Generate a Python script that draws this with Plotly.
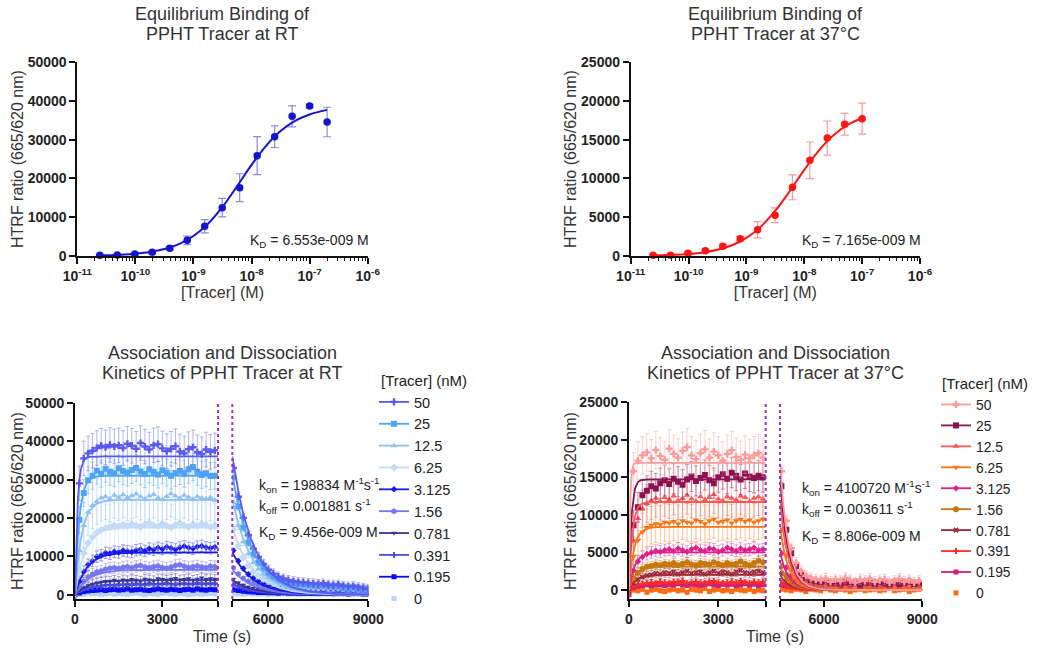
import plotly.graph_objects as go

W, H = 1049, 649
FONT = "Liberation Sans, Arial, sans-serif"

# ---------------- Equilibrium binding data ----------------
EQ_CONC_RT = [2.44e-11, 4.88e-11, 9.77e-11, 1.95e-10, 3.91e-10, 7.81e-10, 1.56e-9,
              3.125e-9, 6.25e-9, 1.25e-8, 2.5e-8, 5e-8, 1e-7, 2e-7]
EQ_HTRF_RT = [200, 250, 500, 950, 2000, 4040, 7650, 12460, 17600, 25860, 30760, 36000, 38660, 34540]
EQ_SD_RT = [200, 200, 300, 400, 500, 1100, 1700, 2400, 3600, 4900, 2800, 2700, 400, 3800]
EQ_FIT_X_RT = [2.44e-11, 3.16e-11, 5.62e-11, 1e-10, 1.78e-10, 3.16e-10, 5.62e-10, 1e-9, 1.78e-9,
               3.16e-9, 5.62e-9, 1e-8, 1.78e-8, 3.16e-8, 5.62e-8, 1e-7, 2e-7]
EQ_FIT_Y_RT = [144, 187, 331, 584, 1027, 1790, 3072, 5147, 8296, 12650, 17950, 23480, 28400,
               32200, 34810, 36480, 37660]

EQ_CONC_37 = [2.44e-11, 4.88e-11, 9.77e-11, 1.95e-10, 3.91e-10, 7.81e-10, 1.56e-9,
              3.125e-9, 6.25e-9, 1.25e-8, 2.5e-8, 5e-8, 1e-7]
EQ_HTRF_37 = [100, 100, 340, 690, 1250, 2230, 3390, 5240, 8850, 12330, 15200, 16970, 17700]
EQ_SD_37 = [100, 100, 150, 200, 250, 300, 1050, 950, 1600, 2360, 2200, 1400, 2000]
EQ_FIT_X_37 = [2.44e-11, 3.16e-11, 5.62e-11, 1e-10, 1.78e-10, 3.16e-10, 5.62e-10, 1e-9, 1.78e-9,
               3.16e-9, 5.62e-9, 1e-8, 1.78e-8, 3.16e-8, 5.62e-8, 1e-7]
EQ_FIT_Y_37 = [65, 84, 148, 262, 461, 805, 1386, 2333, 3788, 5833, 8376, 11100, 13580, 15530,
               16900, 17780]

LOG_TICKS = [1e-11, 1e-10, 1e-9, 1e-8, 1e-7, 1e-6]
LOG_TICK_TEXT = ["10<sup>-11</sup>", "10<sup>-10</sup>", "10<sup>-9</sup>", "10<sup>-8</sup>",
                 "10<sup>-7</sup>", "10<sup>-6</sup>"]

# ---------------- Kinetics, room temperature ----------------
TRACER_LABELS = ["50", "25", "12.5", "6.25", "3.125", "1.56", "0.781", "0.391", "0.195", "0"]

RT_T_ASSOC = list(range(0, 4801, 150))
RT_T_DISSOC = list(range(4950, 9001, 150))
RT_T_FIT_A = [0, 50, 100, 150, 200, 300, 400, 500, 700, 1000, 1500, 2000, 3000, 4910]
RT_T_FIT_D = [4920, 5020, 5120, 5220, 5320, 5470, 5620, 5820, 6020, 6320, 6720, 7220, 8020, 9000]

RT_A_50 = [800, 29000, 35500, 36800, 37500, 38200, 38800, 38400, 39000, 38600, 38900, 38200, 39300,
           38800, 38000, 39500, 38600, 37800, 38900, 39200, 38100, 37400, 38000, 38700, 37300, 36800,
           37900, 38400, 37100, 36600, 37800, 37200, 37600]
RT_A_25 = [500, 19500, 26500, 29800, 31000, 32300, 31500, 32800, 32000, 31600, 32900, 32200, 31800,
           32500, 33000, 32100, 31400, 32600, 32000, 31300, 32400, 31800, 31000, 31700, 32200, 31500,
           32600, 33200, 32000, 31200, 31600, 30900, 31000]
RT_A_12_5 = [300, 11500, 18000, 21500, 23200, 24300, 25200, 25600, 25000, 25900, 25400, 26000, 25300,
             25800, 26200, 25500, 24900, 25700, 26100, 25200, 24800, 25600, 26300, 25700, 25100, 25900,
             25400, 24800, 25600, 25200, 24900, 25300, 24600]
RT_A_6_25 = [200, 6500, 10800, 13500, 15000, 16200, 16900, 17400, 17600, 18100, 17800, 18300, 17900,
             18500, 18000, 17600, 18200, 18700, 18100, 17800, 18400, 18000, 17500, 18200, 18600, 18100,
             17700, 18300, 17900, 18400, 18000, 17600, 17900]
RT_A_3_125 = [100, 3400, 6000, 7800, 8800, 9900, 10300, 10900, 10700, 11200, 11000, 11500, 11300,
              11100, 11600, 11800, 11400, 12000, 11700, 12200, 11900, 12400, 12100, 11800, 12300, 12600,
              12200, 12000, 12500, 12700, 12300, 12100, 12400]
RT_A_1_56 = [100, 2000, 3500, 4600, 5300, 5900, 6200, 6600, 6900, 7000, 6800, 7100, 7300, 7000, 7400,
             7600, 7200, 7000, 7300, 7500, 7100, 6900, 7200, 7600, 7800, 7400, 7100, 7300, 7500, 7200,
             7000, 7400, 7300]
RT_A_0_781 = [0, 1000, 1800, 2400, 2800, 3100, 3300, 3500, 3600, 3800, 3500, 3900, 3700, 4000, 3800,
              3600, 4100, 3900, 3700, 4200, 4000, 3800, 4100, 4300, 3900, 4000, 4200, 3800, 4100, 4400,
              4000, 4200, 4100]
RT_A_0_391 = [0, 700, 1300, 1700, 2000, 2200, 2400, 2500, 2600, 2400, 2700, 2600, 2800, 2500, 2900,
              2700, 2600, 3000, 2800, 2700, 2900, 3100, 2800, 2600, 2900, 3000, 2700, 2900, 3100, 2800,
              3000, 2900, 3000]
RT_A_0_195 = [0, 500, 800, 1000, 1100, 1200, 1300, 1100, 1300, 1400, 1200, 1300, 1500, 1200, 1300,
              1400, 1200, 1100, 1300, 1500, 1300, 1200, 1400, 1300, 1100, 1300, 1400, 1200, 1500, 1300,
              1200, 1400, 1300]
RT_A_0 = [200, 300, 100, 400, 200, 300, 0, 200, 400, 100, 300, 200, 100, 300, 400, 200, 0, 300, 200,
          100, 300, 400, 200, 100, 300, 200, 0, 200, 300, 100, 200, 300, 200]

RT_D_50 = [33000, 25500, 20000, 15500, 12000, 9800, 8000, 6500, 5500, 4700, 4200, 3800, 3500, 3300,
           3200, 3000, 2900, 2800, 2900, 2600, 2500, 2600, 2300, 2100, 2200, 1900, 1700, 1500]
RT_D_25 = [30500, 23000, 17500, 13500, 10500, 8300, 6800, 5500, 4600, 4000, 3500, 3200, 3000, 2800,
           2700, 2600, 2500, 2400, 2500, 2300, 2200, 2300, 2000, 1900, 2000, 1700, 1600, 1400]
RT_D_12_5 = [24000, 18000, 13800, 10600, 8300, 6600, 5400, 4500, 3800, 3300, 3000, 2800, 2600, 2500,
             2400, 2300, 2200, 2100, 2200, 2000, 1900, 2000, 1800, 1700, 1800, 1500, 1400, 1300]
RT_D_6_25 = [17000, 12800, 9800, 7600, 6000, 4900, 4100, 3500, 3000, 2700, 2500, 2300, 2200, 2100,
             2000, 1900, 1900, 1800, 1900, 1700, 1700, 1800, 1600, 1500, 1600, 1400, 1300, 1200]
RT_D_3_125 = [11500, 8800, 6800, 5300, 4300, 3500, 2900, 2500, 2200, 2000, 1800, 1700, 1600, 1500,
              1500, 1400, 1400, 1300, 1400, 1300, 1200, 1300, 1200, 1100, 1200, 1000, 1000, 900]
RT_D_1_56 = [7000, 5400, 4300, 3500, 2900, 2400, 2100, 1800, 1600, 1500, 1400, 1300, 1300, 1200, 1200,
             1100, 1100, 1100, 1200, 1000, 1000, 1100, 1000, 900, 1000, 900, 800, 800]
RT_D_0_781 = [4000, 3100, 2500, 2000, 1700, 1400, 1200, 1100, 1000, 900, 900, 800, 800, 800, 700, 700,
              700, 700, 800, 700, 600, 700, 600, 600, 700, 600, 500, 500]
RT_D_0_391 = [2800, 2200, 1800, 1500, 1200, 1000, 900, 800, 700, 700, 600, 600, 600, 500, 500, 500,
              600, 500, 500, 500, 400, 500, 400, 400, 500, 400, 400, 300]
RT_D_0_195 = [1300, 1100, 900, 800, 700, 600, 600, 500, 500, 400, 500, 400, 400, 400, 300, 400, 300,
              400, 300, 300, 400, 300, 300, 200, 300, 300, 200, 200]
RT_D_0 = [300, 200, 100, 300, 200, 100, 200, 0, 200, 100, 300, 100, 200, 0, 100, 200, 100, 0, 200, 100,
          0, 100, 200, 100, 0, 100, 200, 100]

RT_FA_50 = [0, 16000, 24900, 29800, 32600, 34950, 35700, 35900, 36000, 36000, 36000, 36000, 36000, 36000]
RT_FA_25 = [0, 9000, 15400, 19900, 23100, 27000, 29000, 30000, 30750, 30970, 31000, 31000, 31000, 31000]
RT_FA_12_5 = [0, 4840, 8740, 11850, 14380, 18030, 20400, 21900, 23540, 24380, 24670, 24700, 24700, 24700]
RT_FA_6_25 = [0, 2530, 4690, 6540, 8130, 10640, 12480, 13830, 15540, 16730, 17340, 17470, 17500, 17500]
RT_FA_3_125 = [0, 1290, 2430, 3440, 4330, 5800, 6950, 7840, 9090, 10100, 10740, 10930, 10990, 11000]
RT_FA_1_56 = [0, 675, 1280, 1820, 2310, 3130, 3800, 4330, 5100, 5770, 6260, 6420, 6490, 6500]
RT_FA_0_781 = [0, 375, 715, 1020, 1300, 1770, 2150, 2460, 2910, 3320, 3630, 3740, 3790, 3800]
RT_FA_0_391 = [0, 262, 500, 713, 905, 1240, 1507, 1728, 2050, 2350, 2573, 2655, 2695, 2700]
RT_FA_0_195 = [0, 114, 217, 311, 396, 541, 661, 758, 904, 1038, 1140, 1178, 1197, 1200]

RT_FD_50 = [36000, 30640, 26060, 22180, 18900, 14830, 11630, 8420, 6120, 3780, 1980, 880, 240, 50]
RT_FD_25 = [31000, 26380, 22440, 19100, 16280, 12770, 10010, 7250, 5270, 3260, 1710, 760, 210, 40]
RT_FD_12_5 = [24700, 21020, 17880, 15220, 12970, 10180, 7980, 5780, 4200, 2590, 1360, 610, 170, 30]
RT_FD_6_25 = [17500, 14890, 12670, 10780, 9190, 7210, 5650, 4100, 2980, 1840, 960, 430, 120, 20]
RT_FD_3_125 = [11000, 9360, 7960, 6780, 5780, 4530, 3550, 2570, 1870, 1160, 610, 270, 70, 10]
RT_FD_1_56 = [6500, 5530, 4710, 4000, 3410, 2680, 2100, 1520, 1110, 680, 360, 160, 40, 10]
RT_FD_0_781 = [3800, 3230, 2750, 2340, 2000, 1570, 1230, 890, 650, 400, 210, 90, 30, 0]
RT_FD_0_391 = [2700, 2300, 1950, 1660, 1420, 1110, 870, 630, 460, 280, 150, 70, 20, 0]
RT_FD_0_195 = [1200, 1020, 870, 740, 630, 490, 390, 280, 200, 130, 70, 30, 10, 0]

RT_ERR_ASSOC = [4500, 3500, 6000, 6000, 1500, 1500, 1200, 1000, 500, 300]
RT_ERR_DISSOC = [1200, 1000, 1000, 800, 500, 400, 300, 300, 300, 200]

# ---------------- Kinetics, 37 °C ----------------
C37_T_ASSOC = list(range(0, 4501, 150))
C37_T_DISSOC = list(range(4700, 8901, 150))
C37_T_FIT_A = [0, 25, 50, 100, 150, 200, 300, 400, 600, 900, 1500, 4590]
C37_T_FIT_D = [4660, 4710, 4760, 4840, 4940, 5040, 5190, 5340, 5540, 5840, 6340, 7040, 9000]

C37_A_50 = [1500, 15800, 17200, 17900, 18300, 17500, 18600, 17800, 17300, 18800, 18100, 17600, 18500,
            19000, 17900, 17400, 18200, 18700, 17600, 18400, 17900, 17200, 18100, 18600, 17700, 17300,
            18000, 17500, 17900, 18200, 17600]
C37_A_25 = [500, 8600, 11000, 12600, 13200, 13800, 13500, 14200, 14600, 14100, 14800, 14400, 14000,
            14700, 15100, 14500, 14900, 15300, 14600, 14200, 15000, 15400, 14800, 15600, 15200, 14700,
            15500, 15100, 14900, 15200, 15000]
C37_A_12_5 = [300, 6500, 9500, 10800, 11500, 11900, 12200, 11800, 12300, 12000, 12500, 11900, 12200,
              12600, 12100, 11800, 12400, 12000, 12300, 12700, 12100, 11900, 12400, 12200, 12000, 12500,
              12300, 11800, 12200, 12400, 12100]
C37_A_6_25 = [200, 4500, 6600, 7700, 8300, 8600, 8800, 8700, 9000, 8900, 9100, 8800, 9200, 9000, 8900,
              9300, 9100, 8800, 9200, 9400, 9000, 9100, 9300, 8900, 9200, 9400, 9100, 9300, 9000, 9200,
              9400]
C37_A_3_125 = [100, 2600, 3800, 4400, 4800, 5000, 5200, 5100, 5300, 5400, 5200, 5500, 5300, 5100, 5400,
               5600, 5300, 5200, 5500, 5400, 5100, 5300, 5600, 5400, 5200, 5500, 5300, 5400, 5600, 5300,
               5400]
C37_A_1_56 = [100, 1500, 2300, 2800, 3100, 3200, 3400, 3300, 3500, 3400, 3600, 3300, 3500, 3700, 3400,
              3300, 3600, 3500, 3400, 3700, 3500, 3300, 3600, 3400, 3500, 3800, 3500, 3300, 3600, 3900,
              3700]
C37_A_0_781 = [0, 900, 1400, 1700, 1900, 2000, 2200, 2100, 2300, 2200, 2400, 2100, 2300, 2500, 2200,
               2300, 2400, 2100, 2300, 2500, 2200, 2400, 2300, 2100, 2400, 2600, 2300, 2200, 2400, 2500,
               2300]
C37_A_0_391 = [0, 500, 700, 800, 900, 1000, 900, 1100, 1000, 900, 1100, 1000, 1200, 900, 1000, 1100,
               1000, 900, 1100, 1200, 1000, 900, 1000, 1100, 1000, 1200, 1000, 900, 1100, 1000, 1100]
C37_A_0_195 = [-600, 300, 500, 600, 700, 600, 800, 700, 600, 800, 700, 900, 700, 600, 800, 700, 600,
               800, 900, 700, 600, 800, 700, 800, 600, 700, 900, 700, 800, 600, 700]
C37_A_0 = [-200, 0, -100, 100, -300, 0, 100, -100, -200, 0, 100, -100, 0, -300, 100, 0, -100, 200, -200,
           0, 100, -100, 0, -200, 100, 0, -100, 100, -200, 0, -100]

C37_D_50 = [15800, 9200, 5600, 3600, 2500, 1900, 1600, 1400, 1300, 1500, 1100, 1400, 1200, 1600, 1300,
            1000, 1400, 1200, 1500, 1100, 1300, 1400, 1000, 1200, 1500, 1100, 1300, 1000, 1200]
C37_D_25 = [13800, 8000, 4900, 3200, 2200, 1600, 1300, 1100, 1000, 1200, 900, 1000, 800, 1100, 900, 1000,
            700, 900, 1100, 800, 1000, 900, 700, 1000, 800, 900, 1100, 800, 900]
C37_D_12_5 = [10800, 6200, 3800, 2500, 1700, 1300, 1100, 900, 1000, 800, 900, 700, 1000, 800, 900, 700,
              800, 1000, 700, 900, 800, 700, 900, 800, 1000, 700, 800, 900, 700]
C37_D_6_25 = [8000, 4600, 2800, 1800, 1200, 900, 700, 600, 500, 600, 400, 500, 600, 400, 500, 300, 500,
              400, 600, 400, 500, 300, 400, 500, 400, 300, 500, 400, 300]
C37_D_3_125 = [4900, 3000, 1900, 1300, 1000, 800, 700, 600, 700, 500, 600, 700, 500, 600, 400, 600, 700,
               500, 600, 500, 400, 600, 500, 700, 500, 600, 400, 500, 600]
C37_D_1_56 = [3200, 2000, 1300, 900, 700, 600, 500, 400, 500, 300, 400, 500, 300, 400, 300, 500, 400,
              300, 400, 500, 300, 400, 300, 400, 500, 300, 400, 300, 400]
C37_D_0_781 = [2200, 1500, 1000, 800, 700, 600, 500, 600, 400, 500, 600, 400, 500, 700, 500, 400, 600,
               500, 400, 500, 600, 400, 500, 600, 400, 500, 700, 500, 400]
C37_D_0_391 = [1000, 800, 600, 500, 500, 400, 500, 300, 400, 500, 400, 300, 500, 400, 300, 400, 500, 300,
               400, 300, 500, 400, 300, 400, 500, 400, 300, 400, 300]
C37_D_0_195 = [700, 600, 500, 400, 500, 300, 400, 500, 300, 400, 300, 500, 400, 300, 400, 500, 300, 400,
               300, 400, 500, 300, 400, 300, 400, 300, 500, 400, 300]
C37_D_0 = [100, 0, -100, 100, 0, -200, 100, 0, -100, 200, 0, -100, 100, 0, -200, 0, 100, -100, 0, 100,
           -100, 0, 200, -100, 0, 100, -200, 0, 100]

C37_FA_50 = [0, 8620, 12840, 15930, 16670, 16840, 16900, 16900, 16900, 16900, 16900, 16900]
C37_FA_25 = [0, 3940, 6840, 10480, 12450, 13490, 14350, 14600, 14690, 14700, 14700, 14700]
C37_FA_12_5 = [0, 2380, 4270, 6980, 8700, 9800, 10940, 11390, 11650, 11700, 11700, 11700]
C37_FA_6_25 = [0, 1180, 2190, 3820, 5010, 5900, 7040, 7660, 8180, 8360, 8400, 8400]
C37_FA_3_125 = [0, 620, 1150, 2050, 2730, 3255, 3970, 4390, 4790, 4960, 5000, 5000]
C37_FA_1_56 = [0, 350, 660, 1180, 1580, 1900, 2360, 2640, 2920, 3060, 3100, 3100]
C37_FA_0_781 = [0, 210, 390, 710, 960, 1160, 1460, 1650, 1850, 1960, 2000, 2000]
C37_FA_0_391 = [0, 90, 170, 310, 420, 510, 640, 730, 830, 880, 900, 900]
C37_FA_0_195 = [0, 60, 110, 200, 270, 330, 420, 480, 550, 585, 600, 600]

C37_FD_50 = [16900, 13840, 11320, 8230, 5510, 3700, 2030, 1120, 510, 150, 20, 0, 0]
C37_FD_25 = [14700, 12040, 9850, 7160, 4790, 3220, 1760, 970, 440, 130, 20, 0, 0]
C37_FD_12_5 = [11700, 9580, 7840, 5700, 3810, 2560, 1400, 770, 350, 100, 10, 0, 0]
C37_FD_6_25 = [8400, 6880, 5630, 4090, 2740, 1840, 1010, 550, 250, 70, 10, 0, 0]
C37_FD_3_125 = [5000, 4100, 3350, 2440, 1630, 1100, 600, 330, 150, 40, 10, 0, 0]
C37_FD_1_56 = [3100, 2540, 2080, 1510, 1010, 680, 370, 200, 90, 30, 0, 0, 0]
C37_FD_0_781 = [2000, 1640, 1340, 970, 650, 440, 240, 130, 60, 20, 0, 0, 0]
C37_FD_0_391 = [900, 740, 600, 440, 290, 200, 110, 60, 30, 10, 0, 0, 0]
C37_FD_0_195 = [600, 490, 400, 290, 200, 130, 70, 40, 20, 10, 0, 0, 0]

C37_ERR_ASSOC = [2500, 2000, 2500, 2500, 800, 600, 600, 400, 300, 300]
C37_ERR_DISSOC = [700, 500, 500, 300, 300, 300, 300, 200, 200, 200]

# ---------------- Styles ----------------
RT_COLORS = ["#5a5af0", "#4ea4f4", "#8fc0f4", "#c4dbf6", "#1a1ae6", "#7676ee",
             "#36369a", "#4c4cd6", "#0a0af2", "#b6d4f4"]
RT_SYMBOLS = ["cross", "square", "triangle-up", "diamond", "diamond", "hexagon",
              "triangle-down", "cross", "square", "square"]
C37_COLORS = ["#ff9a9a", "#8c1250", "#ff5858", "#ff7410", "#de208a", "#c67810",
              "#a02a3c", "#ff2a2a", "#d01e7a", "#ff6a10"]
C37_SYMBOLS = ["cross", "square", "triangle-up", "triangle-down", "diamond", "circle",
               "x", "cross", "square", "square"]


def rgba(h, a):
    h = h.lstrip("#")
    return "rgba(%d,%d,%d,%s)" % (int(h[0:2], 16), int(h[2:4], 16), int(h[4:6], 16), a)


def px(x):
    return x / W


def py(y):
    return 1 - y / H


fig = go.Figure()

# ---------------- Top panels ----------------
for conc, vals, sd, fx, fy, col, ecol, xa, ya in [
    (EQ_CONC_RT, EQ_HTRF_RT, EQ_SD_RT, EQ_FIT_X_RT, EQ_FIT_Y_RT, "#1414cc", "#8a8ae6", "x", "y"),
    (EQ_CONC_37, EQ_HTRF_37, EQ_SD_37, EQ_FIT_X_37, EQ_FIT_Y_37, "#ff1414", "#ff9a9a", "x2", "y2"),
]:
    fig.add_trace(go.Scatter(x=conc, y=vals, mode="markers", xaxis=xa, yaxis=ya, showlegend=False,
                             marker=dict(color=col, size=7.5),
                             error_y=dict(type="data", array=sd, color=ecol, thickness=1.2, width=4),
                             cliponaxis=False))
    fig.add_trace(go.Scatter(x=fx, y=fy, mode="lines", xaxis=xa, yaxis=ya, showlegend=False,
                             line=dict(color=col, width=2, shape="spline"), cliponaxis=False))

# ---------------- Kinetic panels ----------------
RT_ASSOC = [RT_A_50, RT_A_25, RT_A_12_5, RT_A_6_25, RT_A_3_125, RT_A_1_56, RT_A_0_781, RT_A_0_391, RT_A_0_195, RT_A_0]
RT_DISSOC = [RT_D_50, RT_D_25, RT_D_12_5, RT_D_6_25, RT_D_3_125, RT_D_1_56, RT_D_0_781, RT_D_0_391, RT_D_0_195, RT_D_0]
RT_FIT_A = [RT_FA_50, RT_FA_25, RT_FA_12_5, RT_FA_6_25, RT_FA_3_125, RT_FA_1_56, RT_FA_0_781, RT_FA_0_391, RT_FA_0_195]
RT_FIT_D = [RT_FD_50, RT_FD_25, RT_FD_12_5, RT_FD_6_25, RT_FD_3_125, RT_FD_1_56, RT_FD_0_781, RT_FD_0_391, RT_FD_0_195]
C37_ASSOC = [C37_A_50, C37_A_25, C37_A_12_5, C37_A_6_25, C37_A_3_125, C37_A_1_56, C37_A_0_781, C37_A_0_391, C37_A_0_195, C37_A_0]
C37_DISSOC = [C37_D_50, C37_D_25, C37_D_12_5, C37_D_6_25, C37_D_3_125, C37_D_1_56, C37_D_0_781, C37_D_0_391, C37_D_0_195, C37_D_0]
C37_FIT_A = [C37_FA_50, C37_FA_25, C37_FA_12_5, C37_FA_6_25, C37_FA_3_125, C37_FA_1_56, C37_FA_0_781, C37_FA_0_391, C37_FA_0_195]
C37_FIT_D = [C37_FD_50, C37_FD_25, C37_FD_12_5, C37_FD_6_25, C37_FD_3_125, C37_FD_1_56, C37_FD_0_781, C37_FD_0_391, C37_FD_0_195]


def add_kinetics(t_a, t_d, assoc, dissoc, tfa, tfd, fit_a, fit_d, colors, symbols, err_a, err_d,
                 xa1, xa2, ya, legend):
    n = len(assoc)
    for i in reversed(range(n)):
        size = 5 if i >= 6 or i == 4 else 6
        mk = dict(color=colors[i], size=size, symbol=symbols[i], line=dict(width=0))
        for t, v, e, xa in [(t_a, assoc[i], err_a[i], xa1), (t_d, dissoc[i], err_d[i], xa2)]:
            fig.add_trace(go.Scatter(
                x=t, y=v, mode="markers", xaxis=xa, yaxis=ya, showlegend=False,
                marker=mk,
                error_y=dict(type="constant", value=e, color=rgba(colors[i], 0.45), thickness=1, width=2)))
    for i in reversed(range(len(fit_a))):
        for t, v, xa in [(tfa, fit_a[i], xa1), (tfd, fit_d[i], xa2)]:
            fig.add_trace(go.Scatter(x=t, y=v, mode="lines", xaxis=xa, yaxis=ya, showlegend=False,
                                     line=dict(color=colors[i], width=1.8)))
    for i in range(n):
        size = 5 if i >= 6 or i == 4 else 6
        fig.add_trace(go.Scatter(
            x=[None], y=[None], xaxis=xa1, yaxis=ya, name=TRACER_LABELS[i], legend=legend,
            mode="lines+markers" if i < len(fit_a) else "markers",
            line=dict(color=colors[i], width=1.8),
            marker=dict(color=colors[i], size=size, symbol=symbols[i], line=dict(width=0))))


add_kinetics(RT_T_ASSOC, RT_T_DISSOC, RT_ASSOC, RT_DISSOC, RT_T_FIT_A, RT_T_FIT_D, RT_FIT_A, RT_FIT_D,
             RT_COLORS, RT_SYMBOLS, RT_ERR_ASSOC, RT_ERR_DISSOC, "x3", "x4", "y3", "legend")
add_kinetics(C37_T_ASSOC, C37_T_DISSOC, C37_ASSOC, C37_DISSOC, C37_T_FIT_A, C37_T_FIT_D, C37_FIT_A,
             C37_FIT_D, C37_COLORS, C37_SYMBOLS, C37_ERR_ASSOC, C37_ERR_DISSOC, "x5", "x6", "y4", "legend2")

# ---------------- Axes ----------------
TICKFONT = dict(family=FONT, size=14, color="#222", weight="bold")
TITLEFONT = dict(family=FONT, size=16, color="#333")
base = dict(showline=True, linecolor="#111", linewidth=1.8, ticks="outside", ticklen=6, tickwidth=1.6,
            tickcolor="#111", showgrid=False, zeroline=False, tickfont=TICKFONT, automargin=False)

logx = dict(base, type="log", range=[-11, -6], tickvals=LOG_TICKS, ticktext=LOG_TICK_TEXT,
            minor=dict(ticks="outside", ticklen=3, tickwidth=1.2, tickcolor="#111", dtick="D1"),
            title=dict(text="[Tracer] (M)", font=TITLEFONT, standoff=4))

fig.update_layout(
    xaxis=dict(logx, domain=[px(77.3), px(367.7)], anchor="y"),
    yaxis=dict(base, range=[0, 50000], dtick=10000, tickformat="d", domain=[py(256), py(62)],
               anchor="x"),
    xaxis2=dict(logx, domain=[px(630.7), px(920)], anchor="y2"),
    yaxis2=dict(base, range=[0, 25000], dtick=5000, tickformat="d", domain=[py(256), py(62)],
                anchor="x2"),
    xaxis3=dict(base, range=[0, 4910], domain=[px(75), px(218)], anchor="y3",
                tickvals=[0, 3000, 4905], ticktext=["0", "3000", " "]),
    xaxis4=dict(base, range=[4920, 9000], domain=[px(232.3), px(368.3)], anchor="y3",
                tickvals=[4925, 6000, 9000], ticktext=[" ", "6000", "9000"]),
    yaxis3=dict(base, range=[-1120, 50000], tickvals=[0, 10000, 20000, 30000, 40000, 50000],
                tickformat="d", domain=[py(599), py(402.7)], anchor="x3"),
    xaxis5=dict(base, range=[0, 4592], domain=[px(629), px(765.7)], anchor="y4",
                tickvals=[0, 3000, 4588], ticktext=["0", "3000", " "]),
    xaxis6=dict(base, range=[4658, 9000], domain=[px(780), px(922.3)], anchor="y4",
                tickvals=[4662, 6000, 9000], ticktext=[" ", "6000", "9000"]),
    yaxis4=dict(base, range=[-1200, 25000], tickvals=[0, 5000, 10000, 15000, 20000, 25000],
                tickformat="d", domain=[py(599), py(402)], anchor="x5"),
)

LEGFONT = dict(family=FONT, size=15, color="#222")
fig.update_layout(
    legend=dict(x=px(374), y=py(386), xanchor="left", yanchor="top", font=dict(LEGFONT, size=14.5),
                bgcolor="rgba(0,0,0,0)", tracegroupgap=0, itemwidth=30),
    legend2=dict(x=px(936), y=py(389), xanchor="left", yanchor="top", font=dict(LEGFONT, size=13.8),
                 bgcolor="rgba(0,0,0,0)", tracegroupgap=0, itemwidth=30),
)

# dotted lines at axis break
shapes = []
for xr, xv, yr in [("x3 domain", 1, "y3 domain"), ("x4 domain", 0, "y3 domain"),
                   ("x5 domain", 1, "y4 domain"), ("x6 domain", 0, "y4 domain")]:
    shapes.append(dict(type="line", xref=xr, yref=yr, x0=xv, x1=xv, y0=0, y1=1,
                       line=dict(color="#9933cc", width=2, dash="dot")))
fig.update_layout(shapes=shapes)

# ---------------- Annotations ----------------
ann = []
TFONT = dict(family=FONT, size=18, color="#333")
for text, x, y in [("Equilibrium Binding of", 222, 14), ("PPHT Tracer at RT", 222, 34),
                   ("Equilibrium Binding of", 775, 14), ("PPHT Tracer at 37°C", 775, 34),
                   ("Association and Dissociation", 222, 353), ("Kinetics of PPHT Tracer at RT", 222, 373),
                   ("Association and Dissociation", 775, 353), ("Kinetics of PPHT Tracer at 37°C", 775, 373)]:
    ann.append(dict(text=text, x=px(x), y=py(y), xref="paper", yref="paper", showarrow=False,
                    xanchor="center", yanchor="middle", font=TFONT))
for text, x, y in [("Time (s)", 222, 636), ("Time (s)", 775, 636)]:
    ann.append(dict(text=text, x=px(x), y=py(y), xref="paper", yref="paper", showarrow=False,
                    xanchor="center", yanchor="middle", font=TITLEFONT))
for x, y in [(17, 159), (570, 159), (17, 501), (570, 501)]:
    ann.append(dict(text="HTRF ratio (665/620 nm)", x=px(x), y=py(y), xref="paper", yref="paper",
                    showarrow=False, textangle=-90, xanchor="center", yanchor="middle", font=TITLEFONT))
for text, x, y in [("[Tracer] (nM)", 379, 380), ("[Tracer] (nM)", 940, 383)]:
    ann.append(dict(text=text, x=px(x), y=py(y), xref="paper", yref="paper", showarrow=False,
                    xanchor="left", yanchor="middle", font=LEGFONT))
AFONT = dict(family=FONT, size=14, color="#222")
for text, x, y in [("K<sub>D</sub> = 6.553e-009 M", 248, 241),
                   ("K<sub>D</sub> = 7.165e-009 M", 800, 241),
                   ("k<sub>on</sub> = 198834 M<sup>-1</sup>s<sup>-1</sup>", 257, 485),
                   ("k<sub>off</sub> = 0.001881 s<sup>-1</sup>", 257, 506),
                   ("K<sub>D</sub> = 9.456e-009 M", 257, 533),
                   ("k<sub>on</sub> = 4100720 M<sup>-1</sup>s<sup>-1</sup>", 800, 488),
                   ("k<sub>off</sub> = 0.003611 s<sup>-1</sup>", 800, 509),
                   ("K<sub>D</sub> = 8.806e-009 M", 800, 537)]:
    ann.append(dict(text=text, x=px(x), y=py(y), xref="paper", yref="paper", showarrow=False,
                    xanchor="left", yanchor="middle", font=AFONT))
fig.update_layout(annotations=ann)

fig.update_layout(width=W, height=H, margin=dict(l=0, r=0, t=0, b=0), paper_bgcolor="white",
                  plot_bgcolor="white", font=dict(family=FONT, color="#222"))

# remove the browser's default page margin so the figure fills the window exactly
fig.write_html("out.html", config={"displayModeBar": False},
               post_script="document.body.style.margin='0';document.body.style.overflow='hidden';")
